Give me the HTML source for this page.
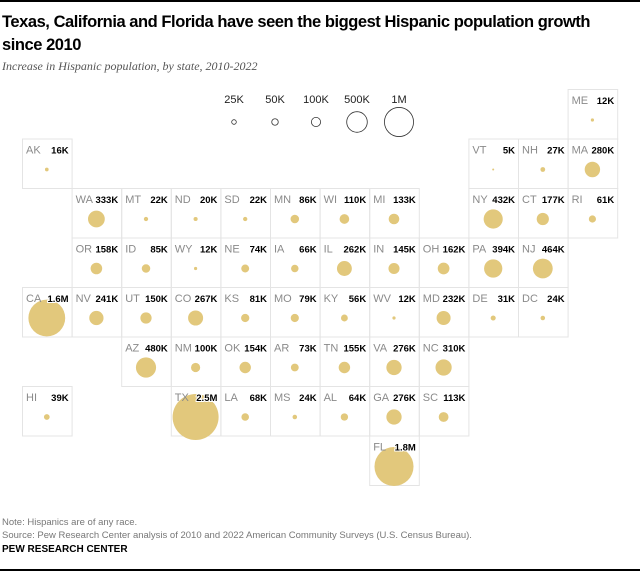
<!DOCTYPE html>
<html><head><meta charset="utf-8"><style>
body{margin:0;width:640px;height:572px;background:#fff;overflow:hidden;font-family:"Liberation Sans",sans-serif;position:relative}
</style></head><body>
<div style="position:absolute;left:0;top:0;width:640px;height:2px;background:#000"></div>
<div style="position:absolute;left:2px;top:11px;width:700px;white-space:nowrap;font-weight:bold;font-size:16.5px;line-height:23px;color:#000;letter-spacing:-0.45px">Texas, California and Florida have seen the biggest Hispanic population growth<br>since 2010</div>
<div style="position:absolute;left:2px;top:59px;font-family:'Liberation Serif',serif;font-style:italic;font-size:12px;color:#555">Increase in Hispanic population, by state, 2010-2022</div>
<svg id="map" width="640" height="500" style="position:absolute;left:0;top:0" font-family="Liberation Sans, sans-serif"></svg>
<div style="position:absolute;left:2px;top:516px;font-size:9.5px;color:#777;line-height:13px">Note: Hispanics are of any race.<br>Source: Pew Research Center analysis of 2010 and 2022 American Community Surveys (U.S. Census Bureau).</div>
<div style="position:absolute;left:2px;top:544px;font-size:10px;font-weight:bold;color:#000">PEW RESEARCH CENTER</div>
<div style="position:absolute;left:0;top:569px;width:640px;height:2px;background:#000"></div>
<script>
const states=["ME","AK","VT","NH","MA","WA","MT","ND","SD","MN","WI","MI","NY","CT","RI","OR","ID","WY","NE","IA","IL","IN","OH","PA","NJ","CA","NV","UT","CO","KS","MO","KY","WV","MD","DE","DC","AZ","NM","OK","AR","TN","VA","NC","HI","TX","LA","MS","AL","GA","SC","FL"];
const cols=[11,0,9,10,11,1,2,3,4,5,6,7,9,10,11,1,2,3,4,5,6,7,8,9,10,0,1,2,3,4,5,6,7,8,9,10,2,3,4,5,6,7,8,0,3,4,5,6,7,8,7];
const rows=[0,1,1,1,1,2,2,2,2,2,2,2,2,2,2,3,3,3,3,3,3,3,3,3,3,4,4,4,4,4,4,4,4,4,4,4,5,5,5,5,5,5,5,6,6,6,6,6,6,6,7];
const values=[12e3,16e3,5e3,27e3,280e3,333e3,22e3,20e3,22e3,86e3,110e3,133e3,432e3,177e3,61e3,158e3,85e3,12e3,74e3,66e3,262e3,145e3,162e3,394e3,464e3,1.6e6,241e3,150e3,267e3,81e3,79e3,56e3,12e3,232e3,31e3,24e3,480e3,100e3,154e3,73e3,155e3,276e3,310e3,39e3,2.5e6,68e3,24e3,64e3,276e3,113e3,1.8e6];
const valueLabels=["12K","16K","5K","27K","280K","333K","22K","20K","22K","86K","110K","133K","432K","177K","61K","158K","85K","12K","74K","66K","262K","145K","162K","394K","464K","1.6M","241K","150K","267K","81K","79K","56K","12K","232K","31K","24K","480K","100K","154K","73K","155K","276K","310K","39K","2.5M","68K","24K","64K","276K","113K","1.8M"];
const legendValues=[25e3,50e3,100e3,500e3,1e6];
const legendLabels=["25K","50K","100K","500K","1M"];
const NS="http://www.w3.org/2000/svg";
const svg=document.getElementById('map');
const X0=22,CW=49.6,Y0=89,RH=49.5;
const xPos=c=>X0+c*CW, yPos=r=>Y0+r*RH;
const rScale=v=>Math.sqrt(v)*0.01455;
function mk(t,a){const e=document.createElementNS(NS,t);for(const k in a)e.setAttribute(k,a[k]);svg.appendChild(e);return e;}
states.forEach((s,i)=>{
  const x=xPos(cols[i]),y=yPos(rows[i]);
  const r=mk('rect',{x:x+0.5,y:y+0.5,width:CW,height:RH,fill:'none',stroke:'#e4e4e4','stroke-width':1});
  
  
  const c=mk('circle',{cx:x+CW/2,cy:y+31,r:Math.max(rScale(values[i]),1),fill:'#e2c87c'});
  
  
  const t=mk('text',{x:x+4,y:y+15,'font-size':11,fill:'#8a8a8a'});t.textContent=s;
  
  
  const v=mk('text',{x:x+CW-3,y:y+15,'font-size':9.5,'font-weight':'bold','text-anchor':'end',fill:'#000',stroke:'#fff','stroke-width':2,'paint-order':'stroke'});v.textContent=valueLabels[i];
  
  
});
const legX=[234,275,316,357,399];
legendValues.forEach((lv,i)=>{
  const c=mk('circle',{cx:legX[i],cy:122,r:rScale(lv),fill:'none',stroke:'#333','stroke-width':0.8});
  
  
  const t=mk('text',{x:legX[i],y:103,'font-size':11,'text-anchor':'middle',fill:'#222'});t.textContent=legendLabels[i];
  
  
});
</script>
</body></html>
